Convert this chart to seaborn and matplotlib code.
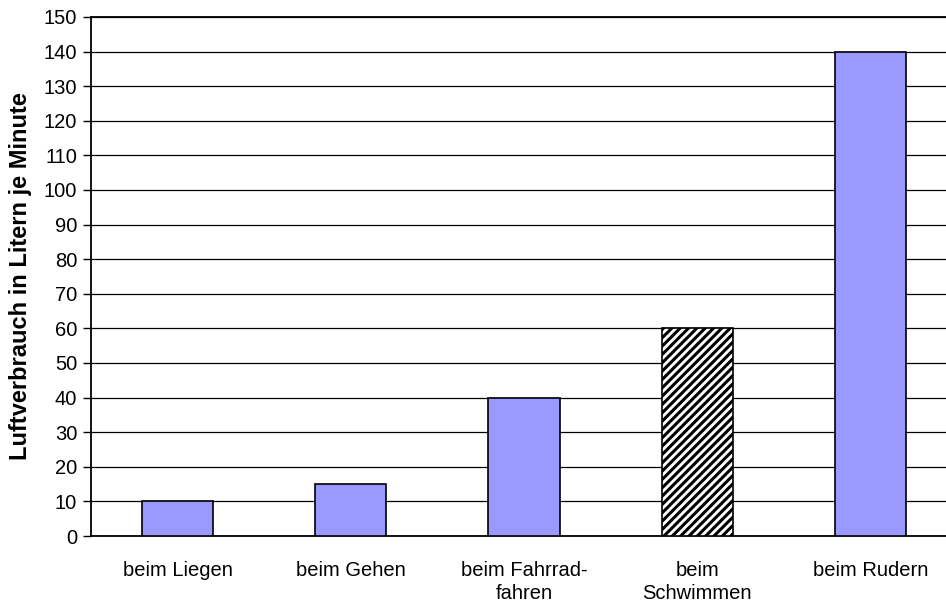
import matplotlib
matplotlib.use("Agg")
import matplotlib.pyplot as plt
import seaborn as sns
import pandas as pd

categories = ["beim Liegen", "beim Gehen", "beim Fahrrad-\nfahren", "beim\nSchwimmen", "beim Rudern"]
values = [10, 15, 40, 60, 140]
y_label = "Luftverbrauch in Litern je Minute"

sns.set_theme(style="white")
plt.rcParams['font.family'] = ['Liberation Sans', 'DejaVu Sans']
plt.rcParams['hatch.linewidth'] = 2.2
plt.rcParams['text.color'] = 'black'
plt.rcParams['xtick.color'] = 'black'
plt.rcParams['ytick.color'] = 'black'
plt.rcParams['axes.labelcolor'] = 'black'

df = pd.DataFrame({"cat": categories, "val": values})

fig = plt.figure(figsize=(9.46, 6.03), dpi=100)
ax = fig.add_axes([91/946, 67/603, 866/946, 519/603])

sns.barplot(data=df, x="cat", y="val", color="#9999FF", width=0.41,
            edgecolor="black", linewidth=1.2, saturation=1, ax=ax, zorder=3)

for i, p in enumerate(ax.patches):
    if i == 3:
        p.set_facecolor("white")
        p.set_hatch("////")
        p.set_edgecolor("black")

ax.set_ylim(0, 150)
ax.set_xlim(-0.5, 4.5)
ax.set_yticks(range(0, 151, 10))
ax.yaxis.grid(True, color="black", linewidth=0.9, zorder=0)
ax.set_axisbelow(True)
ax.set_xlabel("")
ax.set_ylabel(y_label, fontsize=17, fontweight="bold", labelpad=8)
ax.tick_params(axis="y", which="both", left=True, length=6, width=1, color="black",
               labelsize=14.5, pad=4)
ax.tick_params(axis="x", bottom=False, labelsize=14.5, pad=12)
for lbl in ax.get_xticklabels():
    lbl.set_linespacing(1.25)

for s in ["right"]:
    ax.spines[s].set_visible(False)
for s in ["left", "bottom", "top"]:
    ax.spines[s].set_color("black")
    ax.spines[s].set_linewidth(1.3)

fig.savefig("out.png", dpi=100)
